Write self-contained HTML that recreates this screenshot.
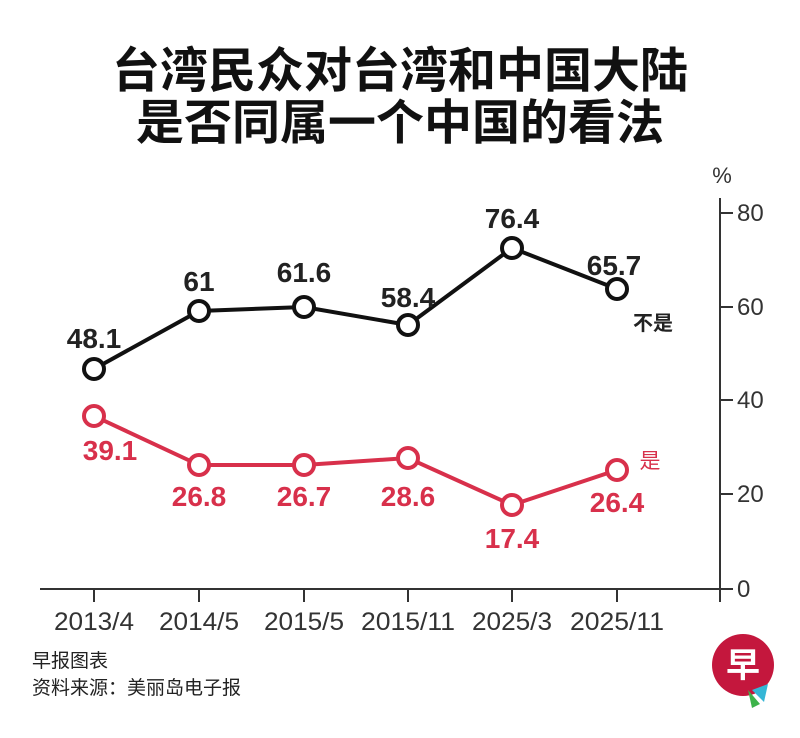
<!DOCTYPE html>
<html><head><meta charset="utf-8"><style>
html,body{margin:0;padding:0;background:#fff;}
svg{display:block;}
</style></head><body>
<svg width="800" height="738" xmlns="http://www.w3.org/2000/svg" font-family="'Liberation Sans','Noto Sans CJK SC',sans-serif">
<rect width="800" height="738" fill="#fff"/>
<text x="400" y="87" text-anchor="middle" font-size="48" font-weight="bold" fill="#111">台湾民众对台湾和中国大陆</text>
<text x="400" y="139" text-anchor="middle" font-size="48" font-weight="bold" fill="#111">是否同属一个中国的看法</text>
<text x="722" y="183" text-anchor="middle" font-size="22" fill="#333">%</text>
<g stroke="#333" stroke-width="2">
<line x1="720" y1="198" x2="720" y2="602"/>
<line x1="40" y1="589" x2="720" y2="589"/>
<line x1="720" y1="213" x2="733" y2="213"/>
<line x1="720" y1="307" x2="733" y2="307"/>
<line x1="720" y1="400" x2="733" y2="400"/>
<line x1="720" y1="494" x2="733" y2="494"/>
<line x1="720" y1="589" x2="733" y2="589"/>
<line x1="94" y1="589" x2="94" y2="602"/>
<line x1="199" y1="589" x2="199" y2="602"/>
<line x1="304" y1="589" x2="304" y2="602"/>
<line x1="408" y1="589" x2="408" y2="602"/>
<line x1="512" y1="589" x2="512" y2="602"/>
<line x1="617" y1="589" x2="617" y2="602"/>
</g>
<g font-size="24" fill="#333">
<text x="737" y="221">80</text>
<text x="737" y="315">60</text>
<text x="737" y="408">40</text>
<text x="737" y="502">20</text>
<text x="737" y="597">0</text>
</g>
<g font-size="25" fill="#333" text-anchor="middle">
<text x="94" y="630" textLength="80" lengthAdjust="spacingAndGlyphs">2013/4</text>
<text x="199" y="630" textLength="80" lengthAdjust="spacingAndGlyphs">2014/5</text>
<text x="304" y="630" textLength="80" lengthAdjust="spacingAndGlyphs">2015/5</text>
<text x="408" y="630" textLength="94" lengthAdjust="spacingAndGlyphs">2015/11</text>
<text x="512" y="630" textLength="80" lengthAdjust="spacingAndGlyphs">2025/3</text>
<text x="617" y="630" textLength="94" lengthAdjust="spacingAndGlyphs">2025/11</text>
</g>
<polyline points="94,369 199,311 304,307 408,325 512,248 617,289" fill="none" stroke="#111" stroke-width="4"/>
<g fill="#fff" stroke="#111" stroke-width="4">
<circle cx="94" cy="369" r="10"/><circle cx="199" cy="311" r="10"/><circle cx="304" cy="307" r="10"/>
<circle cx="408" cy="325" r="10"/><circle cx="512" cy="248" r="10"/><circle cx="617" cy="289" r="10"/>
</g>
<polyline points="94,416 199,465 304,465 408,458 512,505 617,470" fill="none" stroke="#d8304b" stroke-width="4"/>
<g fill="#fff" stroke="#d8304b" stroke-width="4">
<circle cx="94" cy="416" r="10"/><circle cx="199" cy="465" r="10"/><circle cx="304" cy="465" r="10"/>
<circle cx="408" cy="458" r="10"/><circle cx="512" cy="505" r="10"/><circle cx="617" cy="470" r="10"/>
</g>
<g font-size="28" font-weight="bold" fill="#222" text-anchor="middle">
<text x="94" y="348">48.1</text>
<text x="199" y="291">61</text>
<text x="304" y="282">61.6</text>
<text x="408" y="307">58.4</text>
<text x="512" y="228">76.4</text>
<text x="614" y="275">65.7</text>
</g>
<text x="653" y="330" text-anchor="middle" font-size="20" font-weight="bold" fill="#222">不是</text>
<g font-size="28" font-weight="bold" fill="#d8304b" text-anchor="middle">
<text x="110" y="460">39.1</text>
<text x="199" y="506">26.8</text>
<text x="304" y="506">26.7</text>
<text x="408" y="506">28.6</text>
<text x="512" y="548">17.4</text>
<text x="617" y="512">26.4</text>
</g>
<text x="650" y="468" text-anchor="middle" font-size="21" fill="#d8304b">是</text>
<text x="32" y="667" font-size="19" fill="#222">早报图表</text>
<text x="32" y="694" font-size="19" fill="#222">资料来源：美丽岛电子报</text>
<circle cx="743" cy="665" r="31" fill="#c4173d"/>
<text x="743" y="677" text-anchor="middle" font-size="34" font-weight="bold" fill="#fff">早</text>
<path d="M752 690 L768 684 L764 702 Z" fill="#35b6d6"/>
<path d="M748 690 L760 704 L752 708 Z" fill="#3db34a"/>
</svg>
</body></html>
